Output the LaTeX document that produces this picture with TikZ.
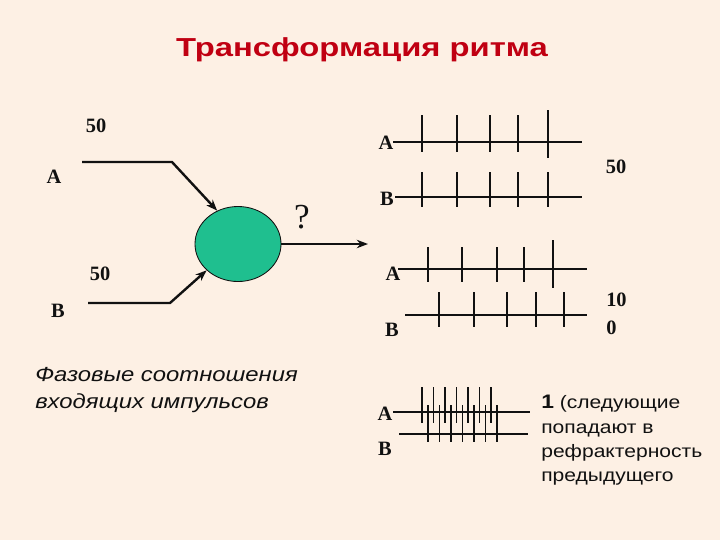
\documentclass[tikz,border=0pt]{standalone}
\usepackage{fontspec}
\setmainfont{Liberation Serif}
\setsansfont{Liberation Sans}
\newfontfamily\headfont[FakeStretch=1.26]{Liberation Sans}
\newfontfamily\widesans[FakeStretch=1.17]{Liberation Sans}
\usetikzlibrary{arrows.meta,positioning,calc,shapes.geometric}
\definecolor{Paper}{HTML}{FDF0E4}
\definecolor{Heading}{HTML}{C00012}
\definecolor{Soma}{HTML}{1FBF8F}
\definecolor{Ink}{HTML}{111111}

\begin{document}
\begin{tikzpicture}[x=0.025cm,y=-0.025cm,>={Stealth[length=8pt,width=6pt]},
  lbl/.style={font=\bfseries\fontsize{14.5}{20}\selectfont,inner sep=0pt,text=Ink},
  feed/.style={->,Ink,line width=1.7pt},
  trace/.style={Ink,line width=0.8pt}]
\fill[Paper] (0,0) rectangle (720,540);
\useasboundingbox (0,0) rectangle (720,540);
\node[font=\headfont\bfseries\fontsize{18.5}{20}\selectfont,text=Heading,anchor=base,inner sep=0pt] (title) at (362,56) {Трансформация ритма};
% neuron and its inputs
\node[ellipse,draw=Ink,line width=0.6pt,fill=Soma,minimum width=2.15cm,minimum height=1.875cm,inner sep=0pt] (soma) at (238,244) {};
\node[lbl,anchor=base] (rateA) at (96,132) {50};
\node[lbl,anchor=base] (inpA) at (54,183) {A};
\node[lbl,anchor=base] (rateB) at (100,280) {50};
\node[lbl,anchor=base] (inpB) at (58,317) {B};
\node[font=\fontsize{25}{28}\selectfont,anchor=base,inner sep=0pt,text=Ink] (query) at (302,228) {?};
\coordinate (startA) at (82,162);
\coordinate (bendA) at (172,162);
\coordinate (startB) at (88,303);
\coordinate (bendB) at (170,303);
\coordinate (outp) at (368,244);
\draw[feed] (startA) -- (bendA) -- (soma.122);
\draw[feed] (startB) -- (bendB) -- (soma.220);
\draw[feed] (soma.east) -- (outp);
\node[font=\widesans\itshape\fontsize{14.5}{19.2}\selectfont,align=left,anchor=north west,inner sep=0pt,text=Ink] (phase) at (35,367) {Фазовые соотношения\\входящих импульсов};
% spike trains, rate 50
\node[lbl,anchor=base] (trA1) at (386,149) {A};
\node[lbl,anchor=base] (trB1) at (387,205) {B};
\node[lbl,anchor=base] (rate50) at (616,173) {50};
\draw[trace] (393,142) -- (582,142);
\draw[trace] (422,115) -- (422,152);
\draw[trace] (457,115) -- (457,152);
\draw[trace] (490,115) -- (490,152);
\draw[trace] (518,115) -- (518,152);
\draw[trace] (548,110) -- (548,158);
\draw[trace] (395,197) -- (582,197);
\draw[trace] (422,172) -- (422,207);
\draw[trace] (457,172) -- (457,207);
\draw[trace] (490,172) -- (490,207);
\draw[trace] (518,172) -- (518,207);
\draw[trace] (548,172) -- (548,207);
% spike trains, rate 100
\node[lbl,anchor=base] (trA2) at (393,280) {A};
\node[lbl,anchor=base] (trB2) at (392,336) {B};
\node[lbl,align=left,anchor=north west] (rate100) at (606,293) {10\\0};
\draw[trace] (398,269) -- (587,269);
\draw[trace] (428,247) -- (428,282);
\draw[trace] (462,247) -- (462,282);
\draw[trace] (497,247) -- (497,282);
\draw[trace] (524,247) -- (524,282);
\draw[trace] (553,240) -- (553,288);
\draw[trace] (405,315) -- (587,315);
\draw[trace] (439,292) -- (439,327);
\draw[trace] (474,292) -- (474,327);
\draw[trace] (507,292) -- (507,327);
\draw[trace] (536,292) -- (536,327);
\draw[trace] (564,292) -- (564,327);
% spike trains, dense
\node[lbl,anchor=base] (trA3) at (385,420) {A};
\node[lbl,anchor=base] (trB3) at (385,455) {B};
\draw[trace] (393,412) -- (530,412);
\draw[trace] (422,387) -- (422,423);
\draw[trace] (433.5,387) -- (433.5,423);
\draw[trace] (445,387) -- (445,423);
\draw[trace] (456.5,387) -- (456.5,423);
\draw[trace] (468,387) -- (468,423);
\draw[trace] (479.5,387) -- (479.5,423);
\draw[trace] (491,387) -- (491,423);
\draw[trace] (399,434) -- (528,434);
\draw[trace] (428,405) -- (428,442);
\draw[trace] (439.5,405) -- (439.5,442);
\draw[trace] (451,405) -- (451,442);
\draw[trace] (462.5,405) -- (462.5,442);
\draw[trace] (474,405) -- (474,442);
\draw[trace] (485.5,405) -- (485.5,442);
\draw[trace] (497,405) -- (497,442);
\node[font=\widesans\fontsize{12.8}{17.3}\selectfont,align=left,anchor=north west,inner sep=0pt,text=Ink] (refr) at (541,395) {{\bfseries\fontsize{13.9}{17.3}\selectfont 1} (следующие\\попадают в\\рефрактерность\\предыдущего};
\end{tikzpicture}
\end{document}
